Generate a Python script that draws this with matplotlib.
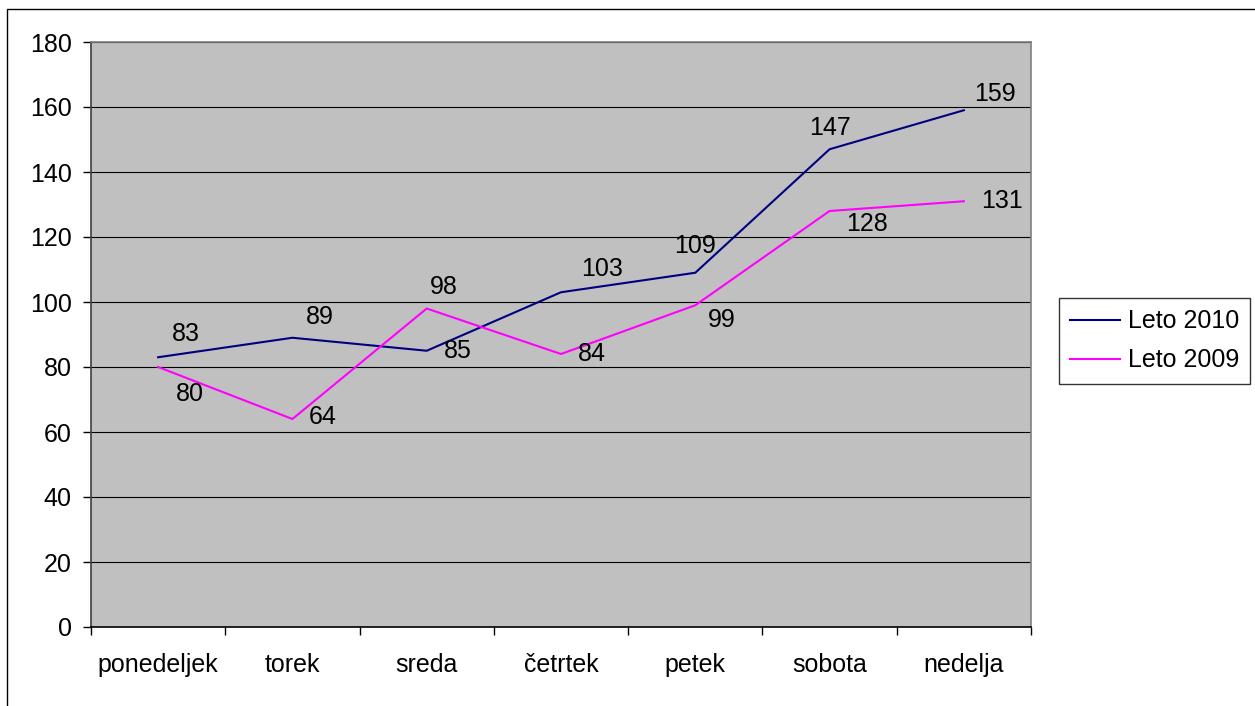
import numpy as np
from matplotlib import pyplot as plt
from matplotlib.patches import Rectangle

days = ['ponedeljek', 'torek', 'sreda', 'četrtek', 'petek', 'sobota', 'nedelja']
leto_2010 = [83, 89, 85, 103, 109, 147, 159]
leto_2009 = [80, 64, 98, 84, 99, 128, 131]

# label offsets in pixels (dx, dy), positive dy is up
off_2010 = [(28, 23), (27, 21), (31, 0), (41, 23), (0, 27), (0, 21), (31, 16)]
off_2009 = [(32, -27), (30, 2), (17, 22), (31, 0), (26, -15), (37, -13), (38, 0)]

plt.rcParams['font.family'] = ['Liberation Sans', 'DejaVu Sans']
fs = 18

fig = plt.figure(figsize=(12.55, 7.06), dpi=100)
ax = fig.add_axes([91 / 1255, 79 / 706, 940 / 1255, 585 / 706])
ax.set_facecolor('#C0C0C0')

x = np.arange(len(days))
ax.plot(x, leto_2010, color='#000080', lw=1.5, label='Leto 2010', zorder=3)
ax.plot(x, leto_2009, color='#FF00FF', lw=1.5, label='Leto 2009', zorder=3)

for xi, v, (dx, dy) in zip(x, leto_2010, off_2010):
    ax.annotate(str(v), (xi, v), xytext=(dx, dy), textcoords='offset pixels',
                ha='center', va='center', fontsize=fs, color='black', zorder=4)
for xi, v, (dx, dy) in zip(x, leto_2009, off_2009):
    ax.annotate(str(v), (xi, v), xytext=(dx, dy), textcoords='offset pixels',
                ha='center', va='center', fontsize=fs, color='black', zorder=4)

ax.set_xlim(-0.5, len(days) - 0.5)
ax.set_ylim(0, 180)
ax.set_yticks(np.arange(0, 181, 20))
ax.yaxis.grid(True, color='black', lw=0.8)
ax.set_axisbelow(True)

ax.set_xticks(x)
ax.set_xticklabels(days)
ax.set_xticks(np.arange(-0.5, len(days)), minor=True)
ax.tick_params(axis='x', which='major', length=0, pad=19, labelsize=fs)
ax.tick_params(axis='x', which='minor', length=6, width=1, direction='out')
ax.tick_params(axis='y', length=6, width=1, labelsize=fs, pad=8)

ax.spines['top'].set_color('#808080')
ax.spines['right'].set_color('#808080')
ax.spines['left'].set_color('#404040')
ax.spines['bottom'].set_color('black')
for s in ax.spines.values():
    s.set_linewidth(1.2)

leg = fig.legend(loc='upper left', bbox_to_anchor=(1059 / 1255, (706 - 298) / 706),
                 fontsize=fs, frameon=True, fancybox=False, edgecolor='black',
                 handlelength=2.0, handletextpad=0.3, borderpad=0.45, labelspacing=0.6,
                 borderaxespad=0)
leg.get_frame().set_linewidth(1)

fig.patches.append(Rectangle((7 / 1255, -0.1), 1.2, (706 - 9) / 706 + 0.1,
                             transform=fig.transFigure, fill=False,
                             edgecolor='black', lw=1, zorder=0))

fig.savefig('out.png', dpi=100)
